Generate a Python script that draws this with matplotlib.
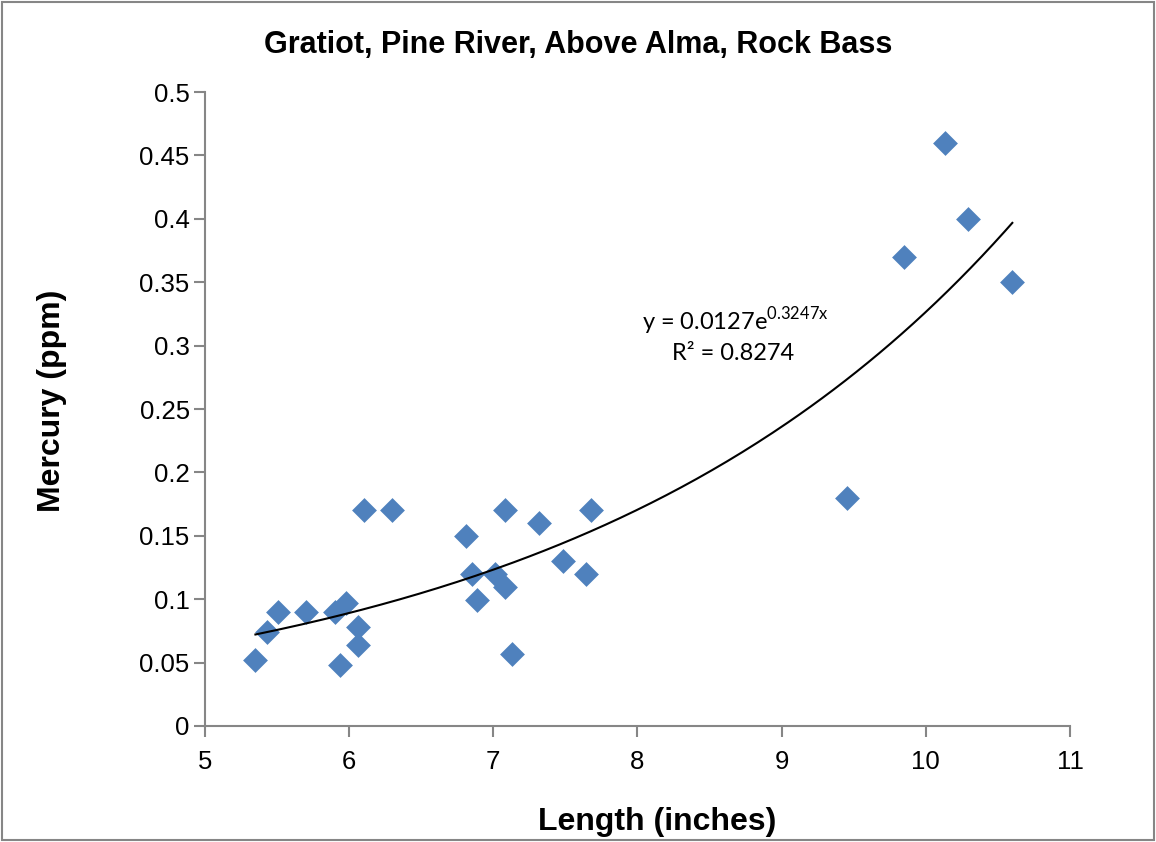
import numpy as np
import matplotlib
matplotlib.use("Agg")
import matplotlib.pyplot as plt

plt.rcParams["font.family"] = ["Liberation Sans", "DejaVu Sans"]
plt.rcParams["mathtext.fontset"] = "custom"
plt.rcParams["mathtext.rm"] = "Lato"

# Length (inches) vs mercury (ppm)
length = [5.35, 5.43, 5.51, 5.70, 5.90, 5.98, 6.06, 6.06, 5.94, 6.10,
          6.30, 6.81, 6.85, 7.01, 6.89, 7.08, 7.08, 7.13, 7.32, 7.48,
          7.64, 7.68, 9.45, 9.85, 10.13, 10.29, 10.60]
mercury = [0.052, 0.074, 0.090, 0.090, 0.090, 0.097, 0.078, 0.064, 0.048, 0.170,
           0.170, 0.150, 0.120, 0.120, 0.099, 0.110, 0.170, 0.057, 0.160, 0.130,
           0.120, 0.170, 0.180, 0.370, 0.460, 0.400, 0.350]

fit_a = 0.0127
fit_b = 0.3247
x_ticks = [5, 6, 7, 8, 9, 10, 11]
y_ticks = [0, 0.05, 0.1, 0.15, 0.2, 0.25, 0.3, 0.35, 0.4, 0.45, 0.5]
y_tick_labels = ["0", "0.05", "0.1", "0.15", "0.2", "0.25", "0.3", "0.35", "0.4", "0.45", "0.5"]

fig = plt.figure(figsize=(11.56, 8.42), dpi=100)
ax = fig.add_axes([0.1773, 0.1378, 0.7483, 0.7529])

# trend line
xs = np.linspace(min(length), max(length), 200)
ax.plot(xs, fit_a * np.exp(fit_b * xs), color="black", lw=1.5, zorder=3)

ax.scatter(length, mercury, marker="D", s=160, color="#4F81BD", linewidths=0, zorder=2)

ax.set_xlim(5, 11)
ax.set_ylim(0, 0.5)
ax.set_xticks(x_ticks)
ax.set_yticks(y_ticks)
ax.set_yticklabels(y_tick_labels)
ax.tick_params(axis="both", labelsize=18.5, color="#868686", length=8, width=1.5)
ax.tick_params(axis="x", pad=9)
ax.tick_params(axis="y", pad=3)

for side in ["top", "right"]:
    ax.spines[side].set_visible(False)
for side in ["left", "bottom"]:
    ax.spines[side].set_color("#868686")
    ax.spines[side].set_linewidth(1.5)

fig.text(0.5, 0.946, "Gratiot, Pine River, Above Alma, Rock Bass", fontsize=22,
         fontweight="bold", ha="center", va="center")
ax.set_xlabel("Length (inches)", fontsize=23, fontweight="bold")
ax.set_ylabel("Mercury (ppm)", fontsize=23, fontweight="bold")
ax.xaxis.set_label_coords(0.523, -0.152)
ax.yaxis.set_label_coords(-0.177, 0.513)
ax.xaxis.label.set_va("center")
ax.yaxis.label.set_va("center")

ax.text(8.68, 0.319, "y = 0.0127e$^{\\mathrm{0.3247x}}$", fontsize=17, ha="center",
        va="center", family=["Lato", "DejaVu Sans"])
ax.text(8.66, 0.294, "R² = 0.8274", fontsize=17, ha="center", va="center",
        family=["Lato", "DejaVu Sans"])

# outer border
fig.patches.append(plt.Rectangle((0.002, 0.002), 0.996, 0.996, transform=fig.transFigure,
                                 fill=False, edgecolor="#868686", lw=1.5))

fig.savefig("out.png", dpi=100)
